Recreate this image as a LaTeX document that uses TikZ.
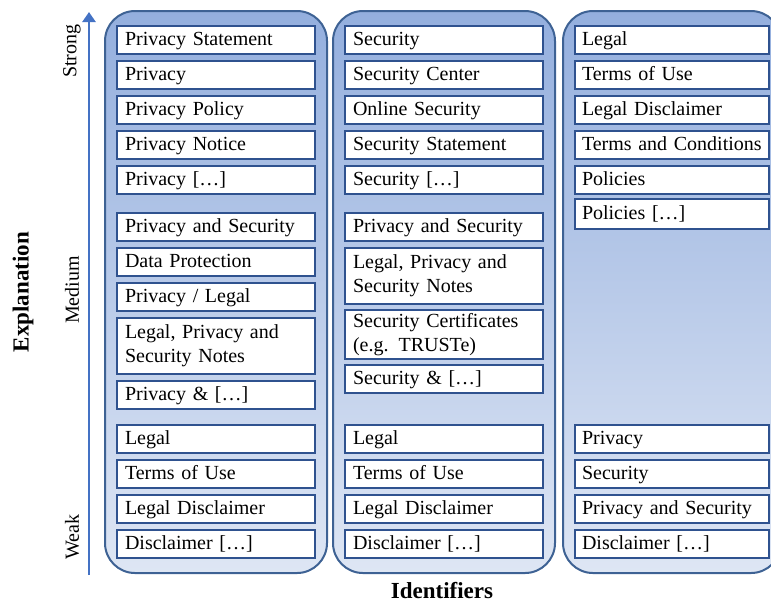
\documentclass[tikz,border=0pt]{standalone}
\usepackage{fontspec}
\setmainfont{Liberation Serif}
\usetikzlibrary{arrows.meta, positioning, fit, backgrounds}

\definecolor{boxline}{RGB}{47,82,143}
\definecolor{colline}{RGB}{62,98,148}
\definecolor{axisblue}{RGB}{68,114,196}
\definecolor{coltop}{RGB}{148,175,222}
\definecolor{colbot}{RGB}{222,230,244}

\begin{document}
\begin{tikzpicture}[
    x=0.5pt, y=-0.5pt,
    node distance=3.5pt,
    axisarrow/.style={-{Triangle[length=5pt, width=6.5pt]}, line width=1.3pt, draw=axisblue},
]

% --- Style definitions ---
\tikzset{
    entry/.style = {draw=boxline, line width=1pt, fill=white, text width=91pt,
        inner xsep=4pt, inner ysep=0pt, outer sep=0pt, minimum height=14pt, align=left,
        text height=7.5pt, text depth=2.5pt, font=\fontsize{10}{12}\selectfont},
    tall/.style = {entry, text height={}, text depth={}, minimum height=28pt},
    lentry/.style = {entry, text width=90pt, inner xsep=3.5pt},
    column/.style = {draw=colline, line width=1pt, rounded corners=15pt,
        top color=coltop, bottom color=colbot, inner xsep=6pt, inner ysep=7.5pt},
    level/.style = {rotate=90, font=\fontsize{10}{12}\selectfont},
    axistitle/.style = {font=\fontsize{11.5}{14}\selectfont\bfseries},
}

\useasboundingbox (0,0) rectangle (771,602);

% --- Privacy column ---
\node (p-stmt) [entry, anchor=north west] at (117,26) {Privacy Statement};
\node (p-privacy) [entry, below=of p-stmt] {Privacy};
\node (p-policy) [entry, below=of p-privacy] {Privacy Policy};
\node (p-notice) [entry, below=of p-policy] {Privacy Notice};
\node (p-more) [entry, below=of p-notice] {Privacy […]};

\node (p-privsec) [entry, anchor=north west] at (117,213) {Privacy and Security};
\node (p-dataprot) [entry, below=of p-privsec] {Data Protection};
\node (p-privlegal) [entry, below=of p-dataprot] {Privacy / Legal};
\node (p-notes) [tall, below=of p-privlegal] {Legal, Privacy and\\Security Notes};
\node (p-and) [entry, below=of p-notes] {Privacy \& […]};

\node (p-legal) [entry, anchor=north west] at (117,425) {Legal};
\node (p-terms) [entry, below=of p-legal] {Terms of Use};
\node (p-disclaimer) [entry, below=of p-terms] {Legal Disclaimer};
\node (p-discl-more) [entry, below=of p-disclaimer] {Disclaimer […]};

% --- Security column ---
\node (s-sec) [entry, anchor=north west] at (345,26) {Security};
\node (s-center) [entry, below=of s-sec] {Security Center};
\node (s-online) [entry, below=of s-center] {Online Security};
\node (s-stmt) [entry, below=of s-online] {Security Statement};
\node (s-more) [entry, below=of s-stmt] {Security […]};

\node (s-privsec) [entry, anchor=north west] at (345,213) {Privacy and Security};
\node (s-notes) [tall, below=of s-privsec] {Legal, Privacy and\\Security Notes};
\node (s-certs) [tall, minimum height=24.5pt, below=3pt of s-notes] {Security Certificates\\(e.g. TRUSTe)};
\node (s-and) [entry, below=3pt of s-certs] {Security \& […]};

\node (s-legal) [entry, anchor=north west] at (345,425) {Legal};
\node (s-terms) [entry, below=of s-legal] {Terms of Use};
\node (s-disclaimer) [entry, below=of s-terms] {Legal Disclaimer};
\node (s-discl-more) [entry, below=of s-disclaimer] {Disclaimer […]};

% --- Legal column ---
\node (l-legal) [lentry, anchor=north west] at (575,26) {Legal};
\node (l-terms) [lentry, below=of l-legal] {Terms of Use};
\node (l-disclaimer) [lentry, below=of l-terms] {Legal Disclaimer};
\node (l-conditions) [lentry, below=of l-disclaimer] {Terms and Conditions};
\node (l-policies) [lentry, below=of l-conditions] {Policies};
\node (l-pol-more) [lentry, minimum height=15pt, below=2.5pt of l-policies] {Policies […]};

\node (l-privacy) [lentry, anchor=north west] at (575,425) {Privacy};
\node (l-security) [lentry, below=of l-privacy] {Security};
\node (l-privsec) [lentry, below=of l-security] {Privacy and Security};
\node (l-discl-more) [lentry, below=of l-privsec] {Disclaimer […]};

% --- Explanation axis ---
\coordinate (axis-bot) at (89,575);
\coordinate (axis-top) at (89,12);
\draw [axisarrow] (axis-bot) -- (axis-top);

\node (strong) [level] at (72,51) {Strong};
\node (medium) [level] at (72,290) {Medium};
\node (weak) [level] at (72,537) {Weak};

\node (explanation) [axistitle, rotate=90] at (23,292) {Explanation};
\node (identifiers) [axistitle] at (442,590) {Identifiers};

% --- Column backgrounds ---
\begin{scope}[on background layer]
    \node (col-privacy) [column, fit=(p-stmt)(p-discl-more)] {};
    \node (col-security) [column, fit=(s-sec)(s-discl-more)] {};
    \node (col-legal) [column, fit=(l-legal)(l-discl-more)] {};
\end{scope}

\end{tikzpicture}
\end{document}
